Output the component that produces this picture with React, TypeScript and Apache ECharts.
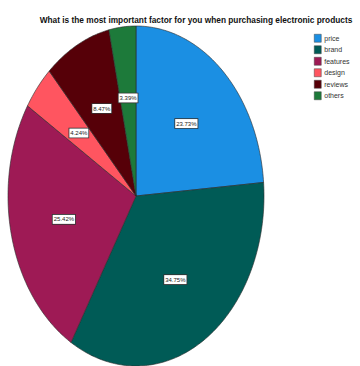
import React, { useEffect, useRef } from "react";
import * as echarts from "echarts";

const TITLE = "What is the most important factor for you when purchasing electronic products";
const categories = ["price", "brand", "features", "design", "reviews", "others"];
const percents = [23.73, 34.75, 25.42, 4.24, 8.47, 3.39];
const colors = ["#1B8FE3", "#005B56", "#9E1A55", "#FF5560", "#560008", "#1D7A3A"];

const CX = 136;
const CY = 196;
const RX = 128;
const RY = 170;
const LABEL_R = 0.58;

export default function App() {
  const ref = useRef<HTMLDivElement>(null);
  useEffect(() => {
    if (!ref.current) return;
    const chart = echarts.init(ref.current, null, { renderer: "svg" });
    const total = percents.reduce((a, b) => a + b, 0);
    const starts: number[] = [];
    let acc = 0;
    percents.forEach((v) => {
      starts.push(acc);
      acc += v;
    });
    const pt = (a: number, f = 1) => [CX + RX * f * Math.sin(a), CY - RY * f * Math.cos(a)];

    const series = categories.map((name, i) => ({
      type: "custom",
      name,
      coordinateSystem: "none",
      data: [[percents[i]]],
      itemStyle: { color: colors[i] },
      renderItem: () => {
        const a0 = (starts[i] / total) * Math.PI * 2;
        const a1 = ((starts[i] + percents[i]) / total) * Math.PI * 2;
        const n = Math.max(4, Math.ceil(((a1 - a0) * 180) / Math.PI));
        const pts: number[][] = [[CX, CY]];
        for (let k = 0; k <= n; k++) pts.push(pt(a0 + ((a1 - a0) * k) / n));
        const mid = (a0 + a1) / 2;
        const lp = pt(mid, LABEL_R);
        return {
          type: "group",
          children: [
            {
              type: "polygon",
              shape: { points: pts },
              style: { fill: colors[i], stroke: "#2a2a2a", lineWidth: 0.6 },
            },
            {
              type: "text",
              x: lp[0],
              y: lp[1],
              style: {
                text: percents[i].toFixed(2) + "%",
                fill: "#222",
                fontSize: 6,
                fontFamily: "Liberation Sans, Arial",
                align: "center",
                verticalAlign: "middle",
                backgroundColor: "#fff",
                borderColor: "#333",
                borderWidth: 0.8,
                padding: [2, 1, 1, 1],
              },
            },
          ],
        };
      },
    }));

    chart.setOption({
      animation: false,
      title: {
        text: TITLE,
        left: 191,
        textAlign: "center",
        top: 11,
        textStyle: {
          fontSize: 8.3,
          fontWeight: "bold",
          color: "#111",
          fontFamily: "Liberation Sans, Arial",
        },
      },
      legend: {
        orient: "vertical",
        left: 309,
        top: 29,
        itemGap: 3,
        itemWidth: 7,
        itemHeight: 8,
        icon: "rect",
        data: categories.map((c, i) => ({
          name: c,
          itemStyle: { color: colors[i], borderColor: "#444", borderWidth: 0.5 },
        })),
        textStyle: { fontSize: 7, color: "#333", fontFamily: "Liberation Sans, Arial", padding: [0, 0, 0, -2] },
      },
      series,
    });
    return () => chart.dispose();
  }, []);
  return (
    <div
      ref={ref}
      style={{ position: "absolute", left: 0, top: 0, width: 360, height: 366, background: "#fff" }}
    />
  );
}
